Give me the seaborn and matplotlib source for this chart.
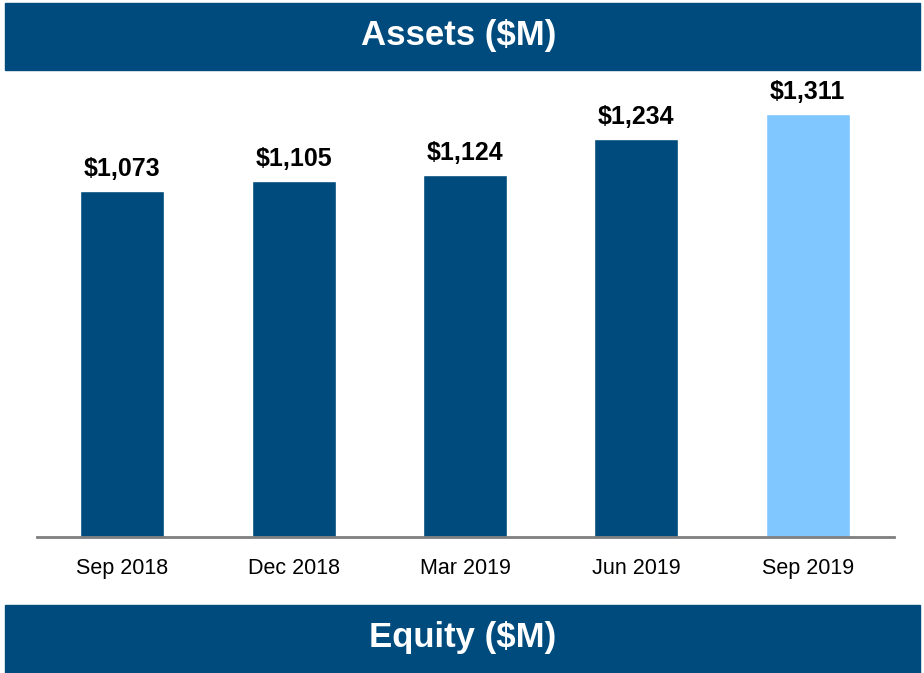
import matplotlib
matplotlib.use("Agg")
import matplotlib.pyplot as plt
from matplotlib.patches import Rectangle
import seaborn as sns
import pandas as pd

periods = ["Sep 2018", "Dec 2018", "Mar 2019", "Jun 2019", "Sep 2019"]
assets = [1073, 1105, 1124, 1234, 1311]
bar_colors = ["#004B7D", "#004B7D", "#004B7D", "#004B7D", "#80C6FF"]
title_top = "Assets ($M)"
title_bottom = "Equity ($M)"

NAVY = "#004B7D"

sns.set_theme(style="white")
plt.rcParams["font.family"] = ["Liberation Sans", "DejaVu Sans"]

W, H = 924, 673
fig = plt.figure(figsize=(W / 100, H / 100), dpi=100)

# banners
fig.patches.append(Rectangle((5 / W, 1 - 70 / H), 915 / W, 67 / H,
                             transform=fig.transFigure, color=NAVY, zorder=0))
fig.patches.append(Rectangle((5 / W, 0), 915 / W, 68 / H,
                             transform=fig.transFigure, color=NAVY, zorder=0))
fig.text(459 / W, 1 - 36 / H, title_top, color="white", fontsize=25,
         fontweight="bold", ha="center", va="center")
fig.text(463 / W, 1 - 638 / H, title_bottom, color="white", fontsize=25,
         fontweight="bold", ha="center", va="center")

ax_left, ax_right = 36.5 / W, 893.5 / W
ax_bottom, ax_top = 1 - 537 / H, 1 - 80 / H
ax = fig.add_axes([ax_left, ax_bottom, ax_right - ax_left, ax_top - ax_bottom])

df = pd.DataFrame({"period": periods, "assets": assets})
sns.barplot(data=df, x="period", y="assets", hue="period", palette=bar_colors,
            legend=False, width=0.49, saturation=1, ax=ax)

ax.set_ylim(0, 457 / 0.3225)
ax.set_xlim(-0.5, len(periods) - 0.5)
for side in ["left", "right", "top"]:
    ax.spines[side].set_visible(False)
ax.spines["bottom"].set_color("#7F7F7F")
ax.spines["bottom"].set_linewidth(2)
ax.set_yticks([])
ax.set_xlabel("")
ax.set_ylabel("")
ax.tick_params(axis="x", length=0, pad=15, labelsize=15.5, labelcolor="black")

for container in ax.containers:
    ax.bar_label(container, labels=[f"${v:,.0f}" for v in container.datavalues],
                 padding=7, fontsize=18, fontweight="bold", color="black")

fig.savefig("out.png", dpi=100)
